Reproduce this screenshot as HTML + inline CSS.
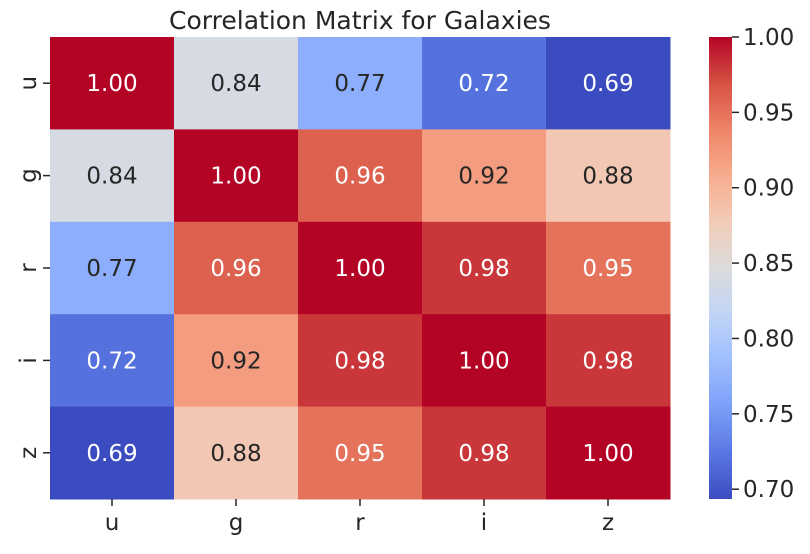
<!DOCTYPE html>
<html><head><meta charset="utf-8"><style>
body{margin:0;background:#fff;}
svg text{font-family:"DejaVu Sans","Liberation Sans",sans-serif;}
</style></head><body>
<svg id="chart" width="810" height="549" xmlns="http://www.w3.org/2000/svg">
<defs><linearGradient id="cbgrad" x1="0" y1="1" x2="0" y2="0"></linearGradient></defs>
<text x="360" y="29" font-size="25" text-anchor="middle" fill="#262626">Correlation Matrix for Galaxies</text>
<g id="cells"></g><g id="axes"></g><g id="cbar"></g>
</svg>
<script>
const labels = ["u","g","r","i","z"];
const values = [
 [1.00,0.84,0.77,0.72,0.69],
 [0.84,1.00,0.96,0.92,0.88],
 [0.77,0.96,1.00,0.98,0.95],
 [0.72,0.92,0.98,1.00,0.98],
 [0.69,0.88,0.95,0.98,1.00]
];
const cbTicks = [0.70,0.75,0.80,0.85,0.90,0.95,1.00];
const vmin = 0.6935, vmax = 1.0;
const anchors = ["#3b4cc0","#5977e3","#7b9ff9","#9ebeff","#c0d4f5","#dcdcdc","#f2cbb7","#f7ac8e","#ee8468","#d65244","#b40426"];
function hex(h){return [1,3,5].map(i=>parseInt(h.substr(i,2),16));}
function cmap(t){t=Math.max(0,Math.min(1,t));const p=t*10,i=Math.min(9,Math.floor(p)),f=p-i;
 const a=hex(anchors[i]),b=hex(anchors[i+1]);return "rgb("+a.map((v,k)=>Math.round(v+(b[k]-v)*f)).join(",")+")";}
const L=50,T=37,W=620,H=462,n=labels.length,cw=W/n,ch=H/n;
const xPos=j=>L+j*cw, yPos=i=>T+i*ch;
const NS="http://www.w3.org/2000/svg";
function mk(tag,attrs,parent,txt){const e=document.createElementNS(NS,tag);for(const k in attrs)e.setAttribute(k,attrs[k]);if(txt!==undefined)e.textContent=txt;parent.appendChild(e);return e;}
const cells=document.getElementById("cells"),axes=document.getElementById("axes"),cbar=document.getElementById("cbar");
values.forEach((row,i)=>row.forEach((v,j)=>{
 const t=(v-vmin)/(vmax-vmin);
 const r=mk("rect",{x:xPos(j),y:yPos(i),width:cw+0.5,height:ch+0.5,fill:cmap(t)},cells);
 
 
 const tx=mk("text",{x:xPos(j)+cw/2,y:yPos(i)+ch/2+8,"font-size":23,"text-anchor":"middle",fill:(t<0.2||t>0.82)?"#ffffff":"#262626"},cells,v.toFixed(2));
 
 
}));
labels.forEach((lab,k)=>{
 const cx=xPos(k)+cw/2;
 mk("line",{x1:cx,x2:cx,y1:T+H,y2:T+H+7,stroke:"#262626","stroke-width":1.5},axes);
 const xt=mk("text",{x:cx,y:T+H+31,"font-size":23,"text-anchor":"middle",fill:"#262626"},axes,lab);
 
 
 const cy=yPos(k)+ch/2;
 mk("line",{x1:L-7,x2:L,y1:cy,y2:cy,stroke:"#262626","stroke-width":1.5},axes);
 const yt=mk("text",{x:0,y:0,"font-size":23,"text-anchor":"middle",fill:"#262626",transform:"translate("+(L-14)+","+cy+") rotate(-90)"},axes,lab);
 
 
});
const g=document.getElementById("cbgrad");
for(let s=0;s<=20;s++){mk("stop",{offset:(s/20),"stop-color":cmap(s/20)},g);}
const CX=709,CW=23;
const cbr=mk("rect",{x:CX,y:T,width:CW,height:H,fill:"url(#cbgrad)"},cbar);


const cbY=v=>T+H-(v-vmin)/(vmax-vmin)*H;
cbTicks.forEach(v=>{
 const y=cbY(v);
 mk("line",{x1:CX+CW,x2:CX+CW+7,y1:y,y2:y,stroke:"#262626","stroke-width":1.5},cbar);
 const t=mk("text",{x:CX+CW+11,y:y+8,"font-size":23,fill:"#262626"},cbar,v.toFixed(2));
 
 
});
</script>
</body></html>
